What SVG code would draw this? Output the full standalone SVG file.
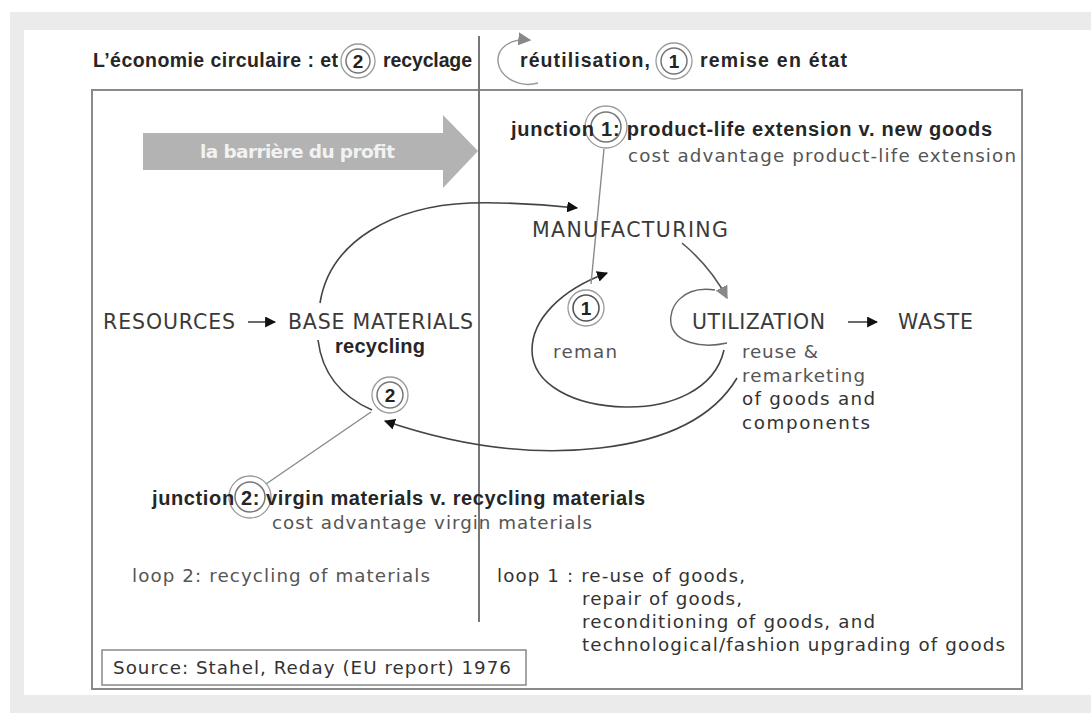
<svg xmlns="http://www.w3.org/2000/svg" width="1091" height="713" viewBox="0 0 1091 713">
<style>
text{font-family:"DejaVu Sans","Liberation Sans",sans-serif;}
.b{font-family:"Liberation Sans",Arial,sans-serif;font-weight:bold;fill:#262626;font-size:20px;}
.t{font-family:"Liberation Sans",Arial,sans-serif;font-weight:bold;fill:#262626;font-size:19.5px;}
.cap{fill:#3a3a3a;font-size:20.5px;}
.g{fill:#555;font-size:18.3px;}
.d{fill:#333;font-size:18.3px;}
.ln{fill:none;stroke:#444;stroke-width:1.6;}
.lg{fill:none;stroke:#8a8a8a;stroke-width:1.4;}
.ro{fill:#fff;stroke:#9a9a9a;stroke-width:1.3;}
.ri{fill:#fff;stroke:#777;stroke-width:1.5;}
.num{font-family:"Liberation Sans",Arial,sans-serif;font-weight:bold;fill:#222;font-size:19px;text-anchor:middle;}
</style>
<defs>
<marker id="ah" viewBox="0 0 10 10" refX="9" refY="5" markerWidth="11" markerHeight="11" markerUnits="userSpaceOnUse" orient="auto"><path d="M0,0 L10,5 L0,10 z" fill="#111"/></marker>
<marker id="ahg" viewBox="0 0 10 10" refX="9" refY="5" markerWidth="13" markerHeight="13" markerUnits="userSpaceOnUse" orient="auto"><path d="M0,0 L10,5 L0,10 z" fill="#888"/></marker>
</defs>
<rect x="0" y="0" width="1091" height="713" fill="#fff"/>
<rect x="10" y="12" width="1081" height="701" fill="#ebebeb"/>
<rect x="24" y="30" width="1067" height="665" fill="#fff"/>
<rect x="92" y="90" width="930" height="599" fill="none" stroke="#8a8a8a" stroke-width="2"/>
<line x1="479" y1="36" x2="479" y2="622" stroke="#777" stroke-width="2"/>

<g id="title">
<text class="t" x="93" y="67" textLength="245">L’économie circulaire : et</text>
<circle class="ro" cx="358" cy="61" r="17"/><circle class="ri" cx="358" cy="61" r="12"/>
<text class="num" x="358" y="68">2</text>
<text class="t" x="383" y="67" textLength="89">recyclage</text>
<path d="M538 83 C520 88 500 78 498 62 C497 48 510 38 530 40" fill="none" stroke="#999" stroke-width="1.5" marker-end="url(#ahg)"/>
<text class="t" x="520" y="67" textLength="130">réutilisation,</text>
<circle class="ro" cx="674" cy="61" r="18"/><circle class="ri" cx="674" cy="61" r="13"/>
<text class="num" x="674" y="68">1</text>
<text class="t" x="700" y="67" textLength="147">remise en état</text>
</g>

<g id="profit-barrier">
<path d="M143 133 H443 V115 L478 151 L443 188 V170 H143 Z" fill="#b3b3b3"/>
<text x="200" y="158" font-family="Liberation Sans, Arial, sans-serif" font-size="18.5" font-weight="bold" fill="#f2f2f2" textLength="195">la barrière du profit</text>
</g>

<g id="connectors">
<path class="ln" d="M320 303 C330 240 395 206 470 203 C515 202 550 205 577 208" marker-end="url(#ah)"/>
<path class="ln" d="M318 340 C322 372 340 396 372 410"/>
<path class="ln" d="M737 378 C715 415 670 440 600 448 C540 455 470 450 385 421" marker-end="url(#ah)"/>
<path class="ln" d="M724 350 C715 390 670 408 625 407 C575 406 532 385 532 350 C532 320 560 290 607 273" marker-end="url(#ah)"/>
<line class="lg" x1="604" y1="149" x2="591" y2="284"/>
<path d="M682 243 C700 258 715 275 727 298" fill="none" stroke="#555" stroke-width="1.6" marker-end="url(#ahg)"/>
<path d="M715 290 C682 285 668 308 671 324 C675 342 700 349 727 343" fill="none" stroke="#666" stroke-width="1.4"/>
<line class="lg" x1="371" y1="412" x2="266" y2="484"/>
<line class="ln" x1="248" y1="322" x2="275" y2="322" marker-end="url(#ah)"/>
<line class="ln" x1="848" y1="322" x2="877" y2="322" marker-end="url(#ah)"/>
</g>

<g id="resources"><text class="cap" x="103" y="329" textLength="132">RESOURCES</text></g>
<g id="base-materials">
<text class="cap" x="288" y="329" textLength="185">BASE MATERIALS</text>
<text class="b" x="335" y="353" textLength="90">recycling</text>
</g>
<g id="manufacturing"><text class="cap" x="532" y="237" textLength="196">MANUFACTURING</text></g>
<g id="utilization">
<text class="cap" x="692" y="329" textLength="133">UTILIZATION</text>
<text class="g" x="742" y="358" textLength="76">reuse &amp;</text>
<text class="g" x="742" y="382" textLength="123">remarketing</text>
<text class="d" x="742" y="405" textLength="133">of goods and</text>
<text class="d" x="742" y="429" textLength="128">components</text>
</g>
<g id="waste"><text class="cap" x="898" y="329" textLength="75">WASTE</text></g>

<g id="reman">
<circle class="ro" cx="586" cy="308" r="18"/><circle cx="586" cy="308" r="13" fill="#fff" stroke="#555" stroke-width="1.6"/>
<text class="num" x="586" y="315">1</text>
<text class="g" x="553" y="358" textLength="64">reman</text>
</g>

<g id="loop2-circle">
<circle class="ro" cx="390" cy="395" r="18"/><circle class="ri" cx="390" cy="395" r="13"/>
<text class="num" x="390" y="402">2</text>
</g>

<g id="junction1">
<circle class="ro" cx="606" cy="127" r="21"/><circle class="ri" cx="606" cy="127" r="15"/>
<text class="b" x="511" y="136" textLength="481">junction 1: product-life extension v. new goods</text>
<text class="g" x="628" y="162" textLength="388">cost advantage product-life extension</text>
</g>

<g id="junction2">
<circle class="ro" cx="250" cy="497" r="21"/><circle class="ri" cx="250" cy="497" r="15"/>
<text class="b" x="152" y="505" textLength="493">junction 2: virgin materials v. recycling materials</text>
<text class="g" x="272" y="529" textLength="320">cost advantage virgin materials</text>
</g>

<g id="loop2"><text class="g" x="132" y="582" textLength="298">loop 2: recycling of materials</text></g>
<g id="loop1">
<text class="d" x="497" y="582" textLength="248">loop 1 : re-use of goods,</text>
<text class="d" x="582" y="605" textLength="160">repair of goods,</text>
<text class="d" x="582" y="628" textLength="293">reconditioning of goods, and</text>
<text class="d" x="582" y="651" textLength="423">technological/fashion upgrading of goods</text>
</g>

<g id="source">
<rect x="102" y="650" width="424" height="35" fill="#fff" stroke="#888" stroke-width="1.5"/>
<text class="d" x="113" y="674" textLength="398">Source: Stahel, Reday (EU report) 1976</text>
</g>
</svg>
